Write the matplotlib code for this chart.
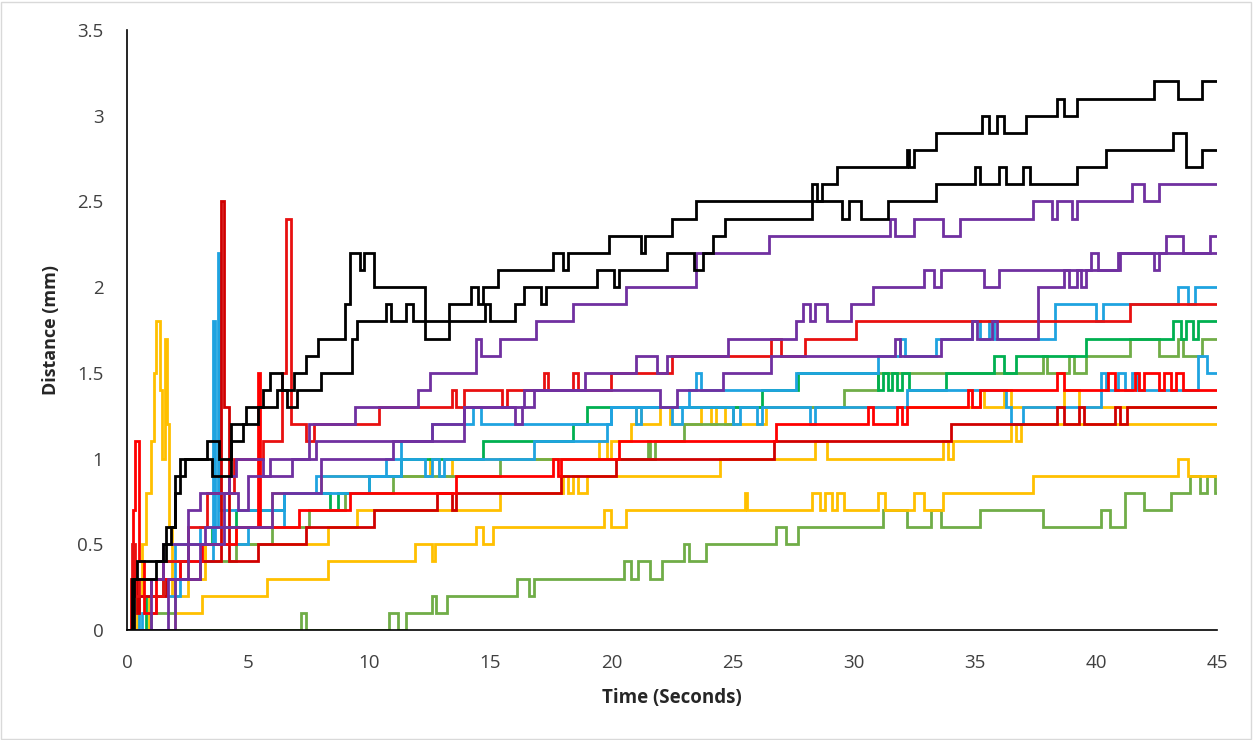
import matplotlib
matplotlib.use("Agg")
import matplotlib.pyplot as plt
from matplotlib.patches import Rectangle

# ---------------- data (time [s], distance [mm]) step breakpoints ----------------
k1 = [(0,0),(0.2,0.3),(0.4,0.4),(1.5,0.5),(1.8,0.6),(2.0,0.8),(2.2,1.0),(3.3,1.1),(3.8,1.0),(4.3,1.2),
      (4.9,1.3),(5.6,1.4),(5.9,1.5),(6.4,1.4),(6.9,1.5),(7.4,1.6),(7.9,1.7),(9.0,1.9),(9.2,2.2),(9.6,2.1),
      (9.8,2.2),(10.2,2.0),(12.3,1.7),(13.3,1.9),(14.2,2.0),(14.5,1.9),(14.7,2.0),(15.3,2.1),(17.6,2.2),(18.0,2.1),
      (18.2,2.2),(19.9,2.3),(21.2,2.2),(21.4,2.3),(22.5,2.4),(23.5,2.5),(28.3,2.6),(28.5,2.5),(28.7,2.6),(29.3,2.7),
      (32.2,2.8),(32.3,2.7),(32.5,2.8),(33.4,2.9),(35.3,3.0),(35.6,2.9),(35.9,3.0),(36.2,2.9),(37.1,3.0),(38.4,3.1),
      (38.7,3.0),(39.2,3.1),(42.4,3.2),(43.4,3.1),(44.4,3.2),(45,3.2)]
k2 = [(0,0),(0.3,0.3),(1.2,0.4),(1.6,0.6),(2.0,0.9),(2.4,1.0),(3.5,0.9),(4.3,1.1),(4.8,1.2),(5.4,1.3),
      (6.2,1.4),(6.6,1.3),(7.0,1.4),(8.0,1.5),(9.3,1.7),(9.5,1.8),(10.7,1.9),(10.9,1.8),(11.5,1.9),(11.8,1.8),
      (14.8,1.9),(15.0,1.8),(16.0,1.9),(16.4,2.0),(17.1,1.9),(17.3,2.0),(19.4,2.1),(20.1,2.0),(20.3,2.1),(22.3,2.2),
      (23.4,2.1),(23.8,2.2),(24.2,2.3),(24.7,2.4),(28.3,2.5),(29.5,2.4),(29.8,2.5),(30.3,2.4),(31.4,2.5),(33.4,2.6),
      (35.0,2.7),(35.2,2.6),(36.0,2.7),(36.3,2.6),(37.0,2.7),(37.3,2.6),(39.2,2.7),(40.4,2.8),(43.2,2.9),(43.7,2.7),
      (44.4,2.8),(45,2.8)]
p1 = [(0,0),(1.0,0.3),(1.5,0.5),(2.5,0.7),(3.0,0.8),(4.2,0.9),(4.5,1.0),(5.6,0.9),(5.9,1.0),(7.5,1.2),
      (9.4,1.3),(12.0,1.4),(12.5,1.5),(14.4,1.7),(14.6,1.6),(15.4,1.7),(16.9,1.8),(18.4,1.9),(20.6,2.0),(23.5,2.2),
      (26.5,2.3),(31.5,2.4),(31.7,2.3),(32.5,2.4),(33.7,2.3),(34.4,2.4),(37.4,2.5),(38.2,2.4),(38.4,2.5),(39.0,2.4),
      (39.2,2.5),(41.5,2.6),(42.0,2.5),(42.6,2.6),(45,2.6)]
p2 = [(0,0),(1.7,0.3),(2.5,0.5),(3.2,0.6),(4.0,0.8),(4.6,0.7),(5.0,0.9),(6.8,1.0),(7.8,1.1),(12.6,1.2),
      (13.9,1.3),(16.0,1.2),(16.3,1.3),(16.4,1.4),(18.9,1.5),(21.0,1.6),(21.9,1.5),(22.3,1.6),(24.8,1.7),(27.6,1.8),
      (27.9,1.9),(28.2,1.8),(28.4,1.9),(28.9,1.8),(29.9,1.9),(30.8,2.0),(32.9,2.1),(33.3,2.0),(33.6,2.1),(35.4,2.0),
      (36.0,2.1),(39.8,2.2),(40.1,2.1),(40.9,2.2),(42.4,2.1),(42.6,2.2),(42.9,2.3),(43.6,2.2),(44.7,2.3),(45,2.3)]
p3 = [(0,0),(2.0,0.3),(3.0,0.5),(4.0,0.6),(6.0,0.8),(8.0,1.0),(11.0,1.1),(13.9,1.3),(16.8,1.4),(22.0,1.3),
      (22.7,1.4),(24.6,1.5),(26.6,1.6),(31.7,1.7),(31.9,1.6),(33.6,1.7),(34.9,1.8),(35.1,1.7),(35.7,1.8),(35.9,1.7),
      (37.6,2.0),(38.7,2.1),(38.9,2.0),(39.2,2.1),(39.4,2.0),(39.6,2.1),(41.0,2.2),(45,2.2)]
b1 = [(0,0),(0.5,0.2),(1.0,0.3),(2.0,0.5),(3.0,0.6),(3.75,2.2),(3.85,0.7),(6.5,0.8),(7.8,0.9),(10.7,1.0),
      (11.3,1.1),(12.6,1.2),(14.3,1.3),(14.6,1.2),(20.0,1.3),(23.2,1.4),(23.5,1.5),(23.7,1.4),(27.6,1.5),(31.0,1.6),
      (31.9,1.7),(32.1,1.6),(33.4,1.7),(34.9,1.8),(35.2,1.7),(35.6,1.8),(35.8,1.7),(38.3,1.9),(40.0,1.8),(40.3,1.9),
      (43.4,2.0),(43.8,1.9),(44.1,2.0),(45,2.0)]
b2 = [(0,0),(0.6,0.1),(1.2,0.2),(2.2,0.4),(3.55,1.8),(3.65,0.5),(5.0,0.6),(6.5,0.8),(10.0,0.9),(11.3,1.0),
      (12.3,0.9),(12.6,1.0),(12.9,0.9),(13.1,1.0),(16.8,1.1),(19.8,1.2),(20.0,1.3),(21.0,1.2),(21.2,1.3),(22.5,1.2),
      (22.9,1.3),(25.0,1.2),(25.3,1.3),(26.0,1.2),(26.2,1.3),(28.2,1.2),(28.4,1.3),(32.2,1.4),(36.3,1.3),(36.5,1.2),
      (37.0,1.3),(40.2,1.5),(40.4,1.4),(40.9,1.5),(41.2,1.4),(41.5,1.5),(41.7,1.4),(44.2,1.6),(44.6,1.5),(45,1.5)]
r1 = [(0,0),(0.2,0.5),(0.35,0.2),(0.5,0.3),(1.0,0.2),(1.5,0.4),(2.5,0.6),(3.3,0.8),(4.4,1.0),(5.6,1.1),
      (6.4,1.5),(6.55,2.4),(6.75,1.2),(7.4,1.1),(7.7,1.2),(10.4,1.3),(13.4,1.4),(13.6,1.3),(13.9,1.4),(15.5,1.3),
      (15.7,1.4),(17.2,1.5),(17.4,1.4),(18.4,1.5),(18.6,1.4),(20.0,1.5),(22.5,1.6),(26.6,1.7),(27.0,1.6),(28.0,1.7),
      (30.1,1.8),(41.4,1.9),(45,1.9)]
r2 = [(0,0),(0.25,0.7),(0.35,1.1),(0.5,0.4),(0.7,0.1),(1.2,0.3),(2.2,0.4),(3.1,0.5),(4.5,0.6),(5.4,1.5),
      (5.5,0.6),(7.1,0.7),(9.2,0.8),(13.6,0.9),(17.6,1.0),(17.8,0.9),(17.9,1.0),(20.3,1.1),(26.8,1.2),(30.6,1.3),
      (30.8,1.2),(31.8,1.3),(32.0,1.2),(32.2,1.3),(34.7,1.4),(34.9,1.3),(35.2,1.4),(38.4,1.5),(38.7,1.4),(40.5,1.5),
      (40.8,1.4),(41.6,1.5),(41.8,1.4),(42.0,1.5),(42.6,1.4),(42.8,1.5),(43.1,1.4),(43.3,1.5),(43.6,1.4),(45,1.4)]
r3 = [(0,0),(0.15,0.3),(0.4,0.1),(0.5,0.2),(1.6,0.3),(3.0,0.4),(3.9,2.5),(4.0,1.3),(4.2,0.4),(5.4,0.5),
      (7.4,0.6),(10.2,0.7),(12.8,0.8),(13.4,0.7),(13.6,0.8),(17.9,0.9),(20.2,1.0),(26.7,1.1),(34.0,1.2),(38.4,1.3),
      (38.7,1.2),(39.3,1.3),(39.5,1.2),(40.8,1.3),(41.0,1.2),(41.3,1.3),(45,1.3)]
g1 = [(0,0),(0.8,0.2),(1.5,0.4),(2.5,0.5),(3.5,0.6),(4.5,0.7),(6.5,0.8),(8.4,0.7),(8.7,0.8),(10.0,0.9),
      (11.3,1.0),(14.7,1.1),(18.4,1.2),(19.0,1.3),(26.2,1.4),(27.7,1.5),(31.0,1.4),(31.2,1.5),(31.4,1.4),(31.6,1.5),
      (31.8,1.4),(32.0,1.5),(32.3,1.4),(33.8,1.5),(35.8,1.6),(36.2,1.5),(36.7,1.6),(39.6,1.7),(43.2,1.8),(43.5,1.7),
      (43.7,1.8),(44.0,1.7),(44.2,1.8),(45,1.8)]
g2 = [(0,0),(1.0,0.1),(2.0,0.3),(3.0,0.4),(4.5,0.5),(6.0,0.6),(7.5,0.7),(9.0,0.8),(11.0,0.9),(15.4,1.0),
      (21.5,1.1),(21.6,1.0),(21.8,1.1),(23.0,1.2),(25.0,1.3),(29.6,1.4),(31.0,1.5),(37.8,1.6),(38.0,1.5),(38.9,1.6),
      (39.1,1.5),(39.6,1.6),(41.4,1.7),(42.6,1.6),(43.4,1.7),(43.6,1.6),(44.4,1.7),(45,1.7)]
g3 = [(0,0),(7.2,0.1),(7.4,0),(10.8,0.1),(11.2,0),(11.5,0.1),(12.6,0.2),(12.75,0.1),(13.2,0.2),(16.1,0.3),
      (16.6,0.2),(16.8,0.3),(20.5,0.4),(20.8,0.3),(21.1,0.4),(21.6,0.3),(22.1,0.4),(23.0,0.5),(23.2,0.4),(23.9,0.5),
      (26.8,0.6),(27.2,0.5),(27.7,0.6),(31.2,0.7),(32.2,0.6),(33.2,0.7),(33.6,0.6),(35.2,0.7),(37.8,0.6),(40.2,0.7),
      (40.6,0.6),(41.2,0.8),(42.0,0.7),(43.1,0.8),(43.9,0.9),(44.3,0.8),(44.6,0.9),(44.9,0.8),(45,0.8)]
y1 = [(0,0),(0.9,0.2),(1.5,0.3),(2.5,0.4),(3.2,0.5),(8.3,0.6),(9.5,0.7),(15.4,0.8),(18.0,0.9),(18.2,0.8),
      (18.4,0.9),(18.6,0.8),(19.0,0.9),(24.5,1.0),(28.4,1.1),(28.9,1.0),(33.7,1.1),(33.9,1.0),(34.1,1.1),(36.5,1.2),
      (36.7,1.1),(36.9,1.2),(45,1.2)]
y2 = [(0,0),(2.0,0.1),(3.1,0.2),(5.8,0.3),(8.3,0.4),(11.9,0.5),(12.6,0.4),(12.7,0.5),(14.4,0.6),(14.7,0.5),
      (15.1,0.6),(19.7,0.7),(20.0,0.6),(20.6,0.7),(25.5,0.8),(25.6,0.7),(28.3,0.8),(28.6,0.7),(28.8,0.8),(29.1,0.7),
      (29.3,0.8),(29.6,0.7),(31.0,0.8),(31.3,0.7),(32.5,0.8),(32.9,0.7),(33.7,0.8),(37.4,0.9),(43.4,1.0),(43.8,0.9),
      (45,0.9)]
y3 = [(0,0),(0.4,0.2),(0.6,0.5),(0.8,0.8),(1.0,1.1),(1.1,1.5),(1.2,1.8),(1.35,1.4),(1.45,1.0),(1.55,1.7),
      (1.65,1.2),(1.75,0.6),(1.85,0.2),(2.5,0.3),(3.2,0.5),(4.5,0.6),(6.0,0.8),(8.0,0.9),(12.5,1.0),(12.9,0.9),
      (13.4,1.0),(19.5,1.1),(19.8,1.0),(20.0,1.1),(20.8,1.2),(21.0,1.3),(21.2,1.2),(22.0,1.3),(22.4,1.2),(23.7,1.3),
      (24.1,1.2),(24.3,1.3),(24.7,1.2),(26.4,1.3),(35.2,1.4),(35.4,1.3),(36.2,1.4),(36.5,1.3),(38.7,1.4),(39.3,1.3),
      (45,1.3)]

series = [  # drawing order: first drawn is at the bottom
    (g3, "#70AD47"), (y2, "#FFC000"), (y1, "#FFC000"), (y3, "#FFC000"),
    (g2, "#70AD47"), (g1, "#00B050"), (b2, "#1FA3E0"), (b1, "#1FA3E0"),
    (r3, "#D00000"), (r2, "#FF0000"), (r1, "#E81010"),
    (p3, "#7030A0"), (p2, "#7030A0"), (p1, "#7030A0"),
    (k2, "#000000"), (k1, "#000000"),
]

x_ticks = [0, 5, 10, 15, 20, 25, 30, 35, 40, 45]
y_ticks = [0, 0.5, 1, 1.5, 2, 2.5, 3, 3.5]
y_tick_labels = ["0", "0.5", "1", "1.5", "2", "2.5", "3", "3.5"]

# ---------------- figure ----------------
plt.rcParams["font.family"] = ["Open Sans", "DejaVu Sans"]
fig = plt.figure(figsize=(12.56, 7.40), dpi=100)
fig.patch.set_facecolor("white")
ax = fig.add_axes([127/1256, 1 - 630/740, (1217-127)/1256, (630-30)/740])

for pts, col in series:
    ts = [p[0] for p in pts]
    vs = [p[1] for p in pts]
    ax.plot(ts, vs, drawstyle="steps-post", color=col, lw=2.0, solid_joinstyle="miter")

ax.set_xlim(0, 45)
ax.set_ylim(0, 3.5)
ax.set_xticks(x_ticks)
ax.set_xticklabels([str(v) for v in x_ticks])
ax.set_yticks(y_ticks)
ax.set_yticklabels(y_tick_labels)
ax.tick_params(length=0, labelsize=13.5, colors="#404040")
ax.tick_params(axis="x", pad=17)
ax.tick_params(axis="y", pad=17)
for s in ["top", "right"]:
    ax.spines[s].set_visible(False)
ax.spines["left"].set_linewidth(1.2)
ax.spines["bottom"].set_linewidth(1.2)
ax.spines["left"].set_color("black")
ax.spines["bottom"].set_color("black")

ax.set_xlabel("Time (Seconds)", fontsize=13.5, fontweight="bold", color="#262626", labelpad=12)
ax.set_ylabel("Distance (mm)", fontsize=13, fontweight="bold", color="#262626", labelpad=12)

fig.add_artist(Rectangle((1/1256, 1/740), 1250/1256, 737/740, transform=fig.transFigure,
                         fill=False, edgecolor="#D9D9D9", lw=1.0))

fig.savefig("out.png", dpi=100, facecolor="white")
